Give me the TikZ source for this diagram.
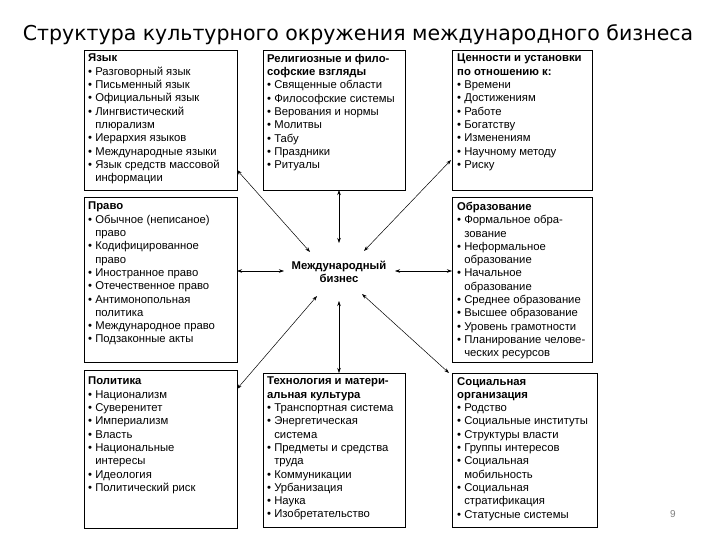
\documentclass[tikz,border=0pt]{standalone}
\usepackage{fontspec}
\setmainfont{Liberation Sans}
\newfontfamily\titlefont{DejaVu Sans}
\usetikzlibrary{arrows.meta}
\newcommand{\cn}{\phantom{• }}
\begin{document}
\begin{tikzpicture}[x=1pt,y=-1pt,
  box/.style={draw=black,line width=0.8pt,anchor=north west,inner sep=0pt},
  txt/.style={anchor=north west,align=left,font=\fontsize{11.3}{13.3}\selectfont,inner sep=0pt},
  conn/.style={{Stealth[length=5pt,width=3.5pt]}-{Stealth[length=5pt,width=3.5pt]},line width=0.5pt}]
\useasboundingbox[fill=white] (0,0) rectangle (720,540);
\node[font=\titlefont\fontsize{20.5}{24}\selectfont] (title) at (358,35) {Структура культурного окружения международного бизнеса};
\node[font=\fontsize{10}{12}\selectfont,text=gray] (pg) at (673,514) {9};

\node[box,minimum width=153pt,minimum height=140pt] (b1) at (84,50) {};
\node[txt] (t1) at (88,54) {\textbf{Язык}\\• Разговорный язык\\• Письменный язык\\• Официальный язык\\• Лингвистический\\\cn плюрализм\\• Иерархия языков\\• Международные языки\\• Язык средств массовой\\\cn информации};

\node[box,minimum width=142pt,minimum height=140pt] (b2) at (263,50) {};
\node[txt] (t2) at (267,54) {\textbf{Религиозные и фило-}\\\textbf{софские взгляды}\\• Священные области\\• Философские системы\\• Верования и нормы\\• Молитвы\\• Табу\\• Праздники\\• Ритуалы};

\node[box,minimum width=140pt,minimum height=140pt] (b3) at (452,50) {};
\node[txt] (t3) at (457,54) {\textbf{Ценности и установки}\\\textbf{по отношению к:}\\• Времени\\• Достижениям\\• Работе\\• Богатству\\• Изменениям\\• Научному методу\\• Риску};

\node[box,minimum width=153pt,minimum height=165pt] (b4) at (84,197) {};
\node[txt] (t4) at (88,202) {\textbf{Право}\\• Обычное (неписаное)\\\cn право\\• Кодифицированное\\\cn право\\• Иностранное право\\• Отечественное право\\• Антимонопольная\\\cn политика\\• Международное право\\• Подзаконные акты};

\node[box,minimum width=140pt,minimum height=165pt] (b5) at (452,197) {};
\node[txt] (t5) at (457,202) {\textbf{Образование}\\• Формальное обра-\\\cn зование\\• Неформальное\\\cn образование\\• Начальное\\\cn образование\\• Среднее образование\\• Высшее образование\\• Уровень грамотности\\• Планирование челове-\\\cn ческих ресурсов};

\node[box,minimum width=153pt,minimum height=158pt] (b6) at (84,370) {};
\node[txt] (t6) at (88,377) {\textbf{Политика}\\• Национализм\\• Суверенитет\\• Империализм\\• Власть\\• Национальные\\\cn интересы\\• Идеология\\• Политический риск};

\node[box,minimum width=142pt,minimum height=154pt] (b7) at (263,373) {};
\node[txt] (t7) at (267,377) {\textbf{Технология и матери-}\\\textbf{альная культура}\\• Транспортная система\\• Энергетическая\\\cn система\\• Предметы и средства\\\cn труда\\• Коммуникации\\• Урбанизация\\• Наука\\• Изобретательство};

\node[box,minimum width=145pt,minimum height=154pt] (b8) at (452,373) {};
\node[txt] (t8) at (457,377) {\textbf{Социальная}\\\textbf{организация}\\• Родство\\• Социальные институты\\• Структуры власти\\• Группы интересов\\• Социальная\\\cn мобильность\\• Социальная\\\cn стратификация\\• Статусные системы};

\node[font=\bfseries\fontsize{11.3}{13}\selectfont,align=center] (c) at (339,272) {Международный\\бизнес};

\coordinate (c1) at (310,252); \coordinate (e1) at (237,170);
\coordinate (c2) at (339,243); \coordinate (e2) at (339,190);
\coordinate (c3) at (364,251); \coordinate (e3) at (451,160);
\coordinate (c4) at (284,271); \coordinate (e4) at (237,271);
\coordinate (c5) at (395,271); \coordinate (e5) at (452,271);
\coordinate (c6) at (317,296); \coordinate (e6) at (237,389);
\coordinate (c7) at (339,301); \coordinate (e7) at (339,373);
\coordinate (c8) at (362,294); \coordinate (e8) at (449,373);
\foreach \i in {1,...,8} {\draw[conn] (c\i) -- (e\i);}
\end{tikzpicture}
\end{document}
